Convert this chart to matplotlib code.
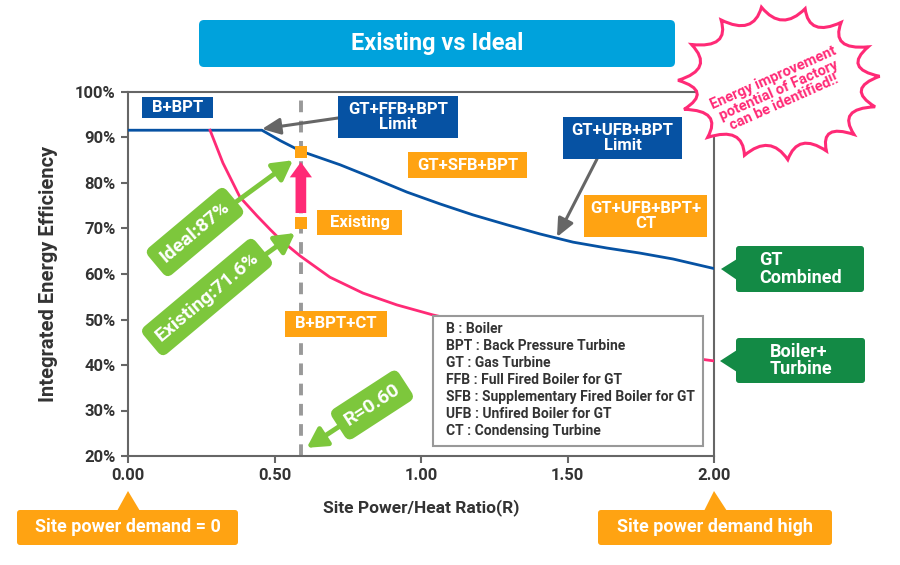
import matplotlib
matplotlib.use("Agg")
import matplotlib.pyplot as plt
from matplotlib.patches import FancyBboxPatch, Rectangle, Polygon, PathPatch
from matplotlib.path import Path
from matplotlib.transforms import Affine2D
import numpy as np

plt.rcParams['font.family'] = ['Roboto', 'DejaVu Sans']
plt.rcParams['font.weight'] = 'bold'
plt.rcParams['axes.labelweight'] = 'bold'

# data
blue_r = [0, 0.457, 0.52, 0.59, 0.724, 0.836, 0.952, 1.065, 1.177, 1.294, 1.406,
          1.519, 1.635, 1.747, 1.86, 2.0]
blue_eff = [91.6, 91.6, 89.3, 87.0, 84.0, 81.1, 78.0, 75.4, 73.0, 70.8, 68.8,
            67.0, 65.7, 64.6, 63.3, 61.2]
pink_r = [0.28, 0.324, 0.382, 0.44, 0.485, 0.519, 0.587, 0.689, 0.802, 0.918, 1.041,
          1.3, 1.6, 2.0]
pink_eff = [91.6, 84.4, 76.9, 72.8, 69.8, 67.6, 64.0, 59.3, 55.8, 53.2, 51.0,
            47.2, 44.3, 40.9]
site_r = 0.59
ideal_eff = 86.8
existing_eff = 71.2
x_ticks = [0, 0.5, 1.0, 1.5, 2.0]
y_ticks = [20, 30, 40, 50, 60, 70, 80, 90, 100]
legend_lines = ["B : Boiler", "BPT : Back Pressure Turbine", "GT : Gas Turbine",
                "FFB : Full Fired Boiler for GT", "SFB : Supplementary Fired Boiler for GT",
                "UFB : Unfired Boiler for GT", "CT : Condensing Turbine"]

BLUE = '#0652A3'
ORANGE = '#FFA312'
PINK = '#FF2A76'
LIME = '#7DC73C'
DGREEN = '#138A45'
CYAN = '#00A2DC'
GRAY = '#666666'
TXT = '#333333'

fig = plt.figure(figsize=(9, 5.65), dpi=100)
ax = fig.add_axes([128/900, 1-456/565, (714-128)/900, (456-92)/565])
# figure pixel coords, y downward
pix = Affine2D().scale(1/900, -1/565).translate(0, 1) + fig.transFigure

ax.plot(blue_r, blue_eff, color=BLUE, lw=2, zorder=3)
ax.plot(pink_r, pink_eff, color=PINK, lw=2, zorder=3)
ax.axvline(site_r, color='#999999', lw=2.8, ls=(0, (3, 2.2)), zorder=2)
ax.scatter([site_r, site_r], [ideal_eff, existing_eff], marker='s', s=80,
           color=ORANGE, zorder=5, linewidths=0)
ax.annotate('', xy=(site_r, 84.6), xytext=(site_r, 73.4),
            arrowprops=dict(arrowstyle='simple,head_width=1.6,head_length=1.1,tail_width=0.77',
                            fc=PINK, ec='none', mutation_scale=10, shrinkA=0, shrinkB=0),
            zorder=4)

ax.set_xlim(0, 2)
ax.set_ylim(20, 100)
ax.set_xticks(x_ticks)
ax.set_xticklabels([f"{v:.2f}" for v in x_ticks])
ax.set_yticks(y_ticks)
ax.set_yticklabels([f"{v}%" for v in y_ticks])
ax.tick_params(colors=GRAY, labelcolor=TXT, labelsize=12, width=1.5, length=5, pad=4)
for sp in ax.spines.values():
    sp.set_color(GRAY)
    sp.set_linewidth(1.5)
ax.set_xlabel("Site Power/Heat Ratio(R)", fontsize=12.5, color=TXT, labelpad=11)
ax.set_ylabel("Integrated Energy Efficiency", fontsize=14.5, color=TXT, labelpad=12)


def box(x0, y0, x1, y1, text, fc, size=12, round_=0, ha='center', tx=None):
    if round_:
        p = FancyBboxPatch((x0, y0), x1-x0, y1-y0, boxstyle=f'round,pad=0,rounding_size={round_}',
                           fc=fc, ec='none', transform=pix)
    else:
        p = Rectangle((x0, y0), x1-x0, y1-y0, fc=fc, ec='none', transform=pix)
    fig.add_artist(p)
    x = (x0+x1)/2 if tx is None else tx
    fig.text(x, (y0+y1)/2, text, transform=pix, ha=ha, va='center', color='white',
             fontsize=size, fontweight='bold', linespacing=0.95)


def tri(points, fc):
    fig.add_artist(Polygon(points, closed=True, fc=fc, ec='none', transform=pix))


# title
box(199, 20, 675, 67, "Existing vs Ideal", CYAN, size=17, round_=5)

# region labels
box(142, 97, 213, 118, "B+BPT", BLUE)
box(338, 96, 458, 138, "GT+FFB+BPT\nLimit", BLUE)
box(408, 152, 527, 178, "GT+SFB+BPT", ORANGE)
box(317, 210, 402, 235, "Existing", ORANGE)
box(563, 117, 682, 159, "GT+UFB+BPT\nLimit", BLUE)
box(584, 195, 707, 237, "GT+UFB+BPT+\nCT", ORANGE)
box(285, 311, 387, 337, "B+BPT+CT", ORANGE)

# gray pointer arrows
for tip, tail in [((262, 129), (338, 118)), ((557, 237), (597, 159))]:
    ax.annotate('', xy=tip, xycoords=pix, xytext=tail, textcoords=pix,
                arrowprops=dict(arrowstyle='-|>,head_width=0.45,head_length=1.0', color=GRAY,
                                lw=2.2, shrinkA=0, shrinkB=0, mutation_scale=11),
                annotation_clip=False)

# legend of abbreviations
fig.add_artist(Rectangle((433, 316), 270, 130, fc='white', ec='#999999', lw=1.5, transform=pix))
for i, line in enumerate(legend_lines):
    fig.text(446, 329 + i*17, line, transform=pix, ha='left', va='center', color=TXT,
             fontsize=10, fontweight='bold')

# right side green tags
box(736, 246, 864, 292, "GT\nCombined", DGREEN, size=13, round_=3, ha='left', tx=759)
tri([(737, 259), (721, 269), (737, 280)], DGREEN)
box(736, 338, 865, 383, "Boiler+\nTurbine", DGREEN, size=13, round_=3, ha='left', tx=770)
tri([(737, 350), (720, 361), (737, 372)], DGREEN)

# bottom orange tags
box(17, 510, 238, 545, "Site power demand = 0", ORANGE, size=13, round_=3)
tri([(117, 511), (128, 491), (140, 511)], ORANGE)
box(598, 510, 832, 545, "Site power demand high", ORANGE, size=13, round_=3)
tri([(704, 511), (714, 491), (727, 511)], ORANGE)

# green rotated callouts
green_calls = [("Ideal:87%", (195, 232), 40, (0.563, 85.0)),
               ("Existing:71.6%", (207, 297), 40, (0.57, 69.0)),
               ("R=0.60", (372, 405), 33, (0.61, 21.8))]
for text, pos, rot, tip in green_calls:
    ax.annotate(text, xy=tip, xycoords='data', xytext=pos, textcoords=pix,
                rotation=rot, rotation_mode='anchor', ha='center', va='center',
                fontsize=14, fontweight='bold', color='white',
                bbox=dict(boxstyle='round,pad=0.45,rounding_size=0.35', fc=LIME, ec='none'),
                arrowprops=dict(arrowstyle='-|>,head_width=0.5,head_length=0.9', color=LIME,
                                lw=3.5, shrinkA=0, shrinkB=0, mutation_scale=13),
                annotation_clip=False, zorder=6)

# starburst callout
cx, cy = 779, 83
tip_ang = np.deg2rad([100, 75, 52, 28, 5, -18, -42, -62, -85, -110, -135, -160, 178, 150, 125])
rx, ry = 101, 77
verts, codes = [], []
n = len(tip_ang)
for i in range(n):
    a0, a1 = tip_ang[i], tip_ang[(i+1) % n]
    if a1 > a0:
        a1 -= 2*np.pi
    am = (a0 + a1) / 2
    p0 = (cx + rx*np.cos(a0), cy - ry*np.sin(a0))
    pc = (cx + rx*0.66*np.cos(am), cy - ry*0.66*np.sin(am))
    if i == 0:
        verts.append(p0)
        codes.append(Path.MOVETO)
    p1 = (cx + rx*np.cos(a1), cy - ry*np.sin(a1))
    verts += [pc, p1]
    codes += [Path.CURVE3, Path.CURVE3]
verts.append(verts[0])
codes.append(Path.CLOSEPOLY)
fig.add_artist(PathPatch(Path(verts, codes), fc='white', ec=PINK, lw=2.2, transform=pix, zorder=4))
fig.text(779, 90, "Energy improvement\npotential of Factory\ncan be identified!!", transform=pix,
         rotation=24, ha='center', va='center', color=PINK, fontsize=10.5, fontweight='bold',
         linespacing=0.95, zorder=5)

fig.savefig("out.png", dpi=100)
